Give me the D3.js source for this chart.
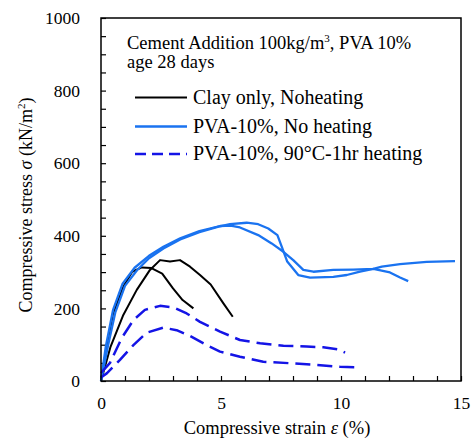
<!DOCTYPE html>
<html><head><meta charset="utf-8">
<script src="https://cdn.jsdelivr.net/npm/d3@7"></script>
<style>
html,body{margin:0;padding:0;background:#fff;}
text{font-family:"Liberation Serif","Times New Roman",serif;fill:#000;}
</style></head>
<body><svg id="c" width="476" height="441"></svg>
<script>
// ---- data ----
const xTicks = [0, 5, 10, 15];
const yTicks = [0, 200, 400, 600, 800, 1000];
const seriesNames = ["Clay only, Noheating", "PVA-10%, No heating", "PVA-10%, 90°C-1hr heating"];

const clayA_x = [0, 0.2, 0.5, 0.93, 1.3, 1.7, 2.1, 2.55, 3.0, 3.4, 3.85];
const clayA_y = [0, 80, 185, 260, 301, 313, 311, 296, 255, 223, 200];
const clayB_x = [0, 0.4, 0.93, 1.49, 2.04, 2.46, 2.875, 3.29, 3.71, 4.125, 4.57, 5.1, 5.49];
const clayB_y = [0, 95, 182, 251, 306, 333, 329, 333, 315, 292, 266, 214, 177];

const pvaA_x = [0, 0.2, 0.5, 0.9, 1.4, 2.0, 2.6, 3.3, 4.1, 4.96, 5.4, 5.79, 6.55, 7.11, 7.6, 8.01, 8.43, 8.85, 9.68, 10.51, 11.35, 11.7, 12.46, 13.57, 14.75];
const pvaA_y = [0, 95, 195, 268, 312, 345, 370, 393, 413, 427, 428, 423, 402, 379, 356, 333, 306, 301, 306, 307, 309, 315, 322, 328, 330];
const pvaB_x = [0, 0.3, 0.6, 1.0, 1.5, 2.0, 2.6, 3.3, 4.1, 4.9, 5.375, 6.07, 6.55, 6.97, 7.35, 7.53, 7.76, 8.22, 8.71, 9.68, 10.24, 10.79, 11.35, 12.04, 12.46, 12.8];
const pvaB_y = [0, 100, 190, 262, 305, 338, 365, 390, 410, 425, 432, 436, 432, 420, 402, 370, 329, 292, 285, 287, 292, 301, 309, 299, 285, 275];

const heatA_x = [0, 0.375, 0.86, 1.35, 1.83, 2.46, 3.01, 3.57, 4.125, 4.96, 5.79, 6.63, 7.6, 8.57, 9.26, 9.89, 10.17];
const heatA_y = [22, 50, 118, 168, 196, 207, 203, 186, 163, 136, 113, 104, 97, 95, 93, 87, 78];
const heatB_x = [0, 0.24, 0.79, 1.35, 1.9, 2.6, 3.15, 3.71, 4.4, 4.96, 5.79, 6.76, 7.875, 8.99, 9.96, 10.7];
const heatB_y = [10, 21, 58, 99, 133, 147, 140, 124, 99, 81, 67, 53, 49, 44, 39, 38];

const colors = ["#000000", "#1a73f0", "#1414e6"];

// ---- chart ----
const FONT = '"Liberation Serif","Times New Roman",serif';
const svg = d3.select("#c");
const x = d3.scaleLinear().domain([0, 15]).range([101, 461]);
const y = d3.scaleLinear().domain([0, 1000]).range([381, 18]);

const zip = (xs, ys) => xs.map((v, i) => [v, ys[i]]);
const line = d3.line().x(d => x(d[0])).y(d => y(d[1]));

const series = [
  {pts: zip(clayA_x, clayA_y), c: 0, w: 2, dash: null},
  {pts: zip(clayB_x, clayB_y), c: 0, w: 2, dash: null},
  {pts: zip(pvaA_x, pvaA_y), c: 1, w: 2.3, dash: null},
  {pts: zip(pvaB_x, pvaB_y), c: 1, w: 2.3, dash: null},
  {pts: zip(heatA_x, heatA_y), c: 2, w: 2.5, dash: "15,7"},
  {pts: zip(heatB_x, heatB_y), c: 2, w: 2.5, dash: "15,7"}
];

// axes
const xAxis = d3.axisBottom(x).tickValues(d3.range(0, 16, 1)).tickSize(-5).tickPadding(15.5)
  .tickFormat(d => xTicks.includes(d) ? d : "");
const gx = svg.append("g").attr("transform", "translate(0,381)").call(xAxis);
const yAxis = d3.axisLeft(y).tickValues(d3.range(0, 1001, 50)).tickSize(-5).tickPadding(21)
  .tickFormat(d => yTicks.includes(d) ? d : "");
const gy = svg.append("g").attr("transform", "translate(101,0)").call(yAxis);
[gx, gy].forEach(g => {
  g.attr("font-family", null).attr("font-size", null);
  g.select(".domain").remove();
  g.selectAll(".tick line").attr("stroke", "#000").attr("stroke-width", 1.2);
  g.selectAll(".tick text").style("font-family", FONT).style("font-size", "17.5px").attr("fill", "#000");
});

// data lines
svg.append("g").selectAll("path").data(series).join("path")
  .attr("d", d => line(d.pts))
  .attr("fill", "none")
  .attr("stroke", d => colors[d.c])
  .attr("stroke-width", d => d.w)
  .attr("stroke-dasharray", d => d.dash)
  .attr("stroke-linejoin", "round");

// frame
svg.append("rect").attr("x", 101).attr("y", 18).attr("width", 360).attr("height", 363)
  .attr("fill", "none").attr("stroke", "#000").attr("stroke-width", 1.5);

// annotation
const t1 = svg.append("text").attr("x", 127).attr("y", 48.5).style("font-size", "18.5px");
t1.append("tspan").text("Cement Addition 100kg/m");
t1.append("tspan").attr("dy", -7).style("font-size", "11px").text("3");
t1.append("tspan").attr("dy", 7).text(", PVA 10%");
svg.append("text").attr("x", 127).attr("y", 67.5).style("font-size", "18.5px").text("age 28 days");

// legend
const leg = [{c: 0, w: 2, dash: null}, {c: 1, w: 2.3, dash: null}, {c: 2, w: 2.5, dash: "11,6"}];
const legY = [97.5, 126.5, 154];
leg.forEach((l, i) => {
  svg.append("line").attr("x1", 135).attr("x2", 187).attr("y1", legY[i]).attr("y2", legY[i])
    .attr("stroke", colors[l.c]).attr("stroke-width", l.w).attr("stroke-dasharray", l.dash);
  svg.append("text").attr("x", 193).attr("y", legY[i] + 6).style("font-size", "20px").text(seriesNames[i]);
});

// axis titles
const xt = svg.append("text").attr("x", 277).attr("y", 434).attr("text-anchor", "middle").style("font-size", "18.5px");
xt.append("tspan").text("Compressive strain ");
xt.append("tspan").style("font-style", "italic").text("ε");
xt.append("tspan").text(" (%)");

const yt = svg.append("text").attr("transform", "translate(32,205) rotate(-90)").attr("text-anchor", "middle").style("font-size", "18px");
yt.append("tspan").text("Compressive stress ");
yt.append("tspan").style("font-style", "italic").text("σ");
yt.append("tspan").text(" (kN/m");
yt.append("tspan").attr("dy", -7).style("font-size", "11px").text("2");
yt.append("tspan").attr("dy", 7).text(")");
</script></body></html>
